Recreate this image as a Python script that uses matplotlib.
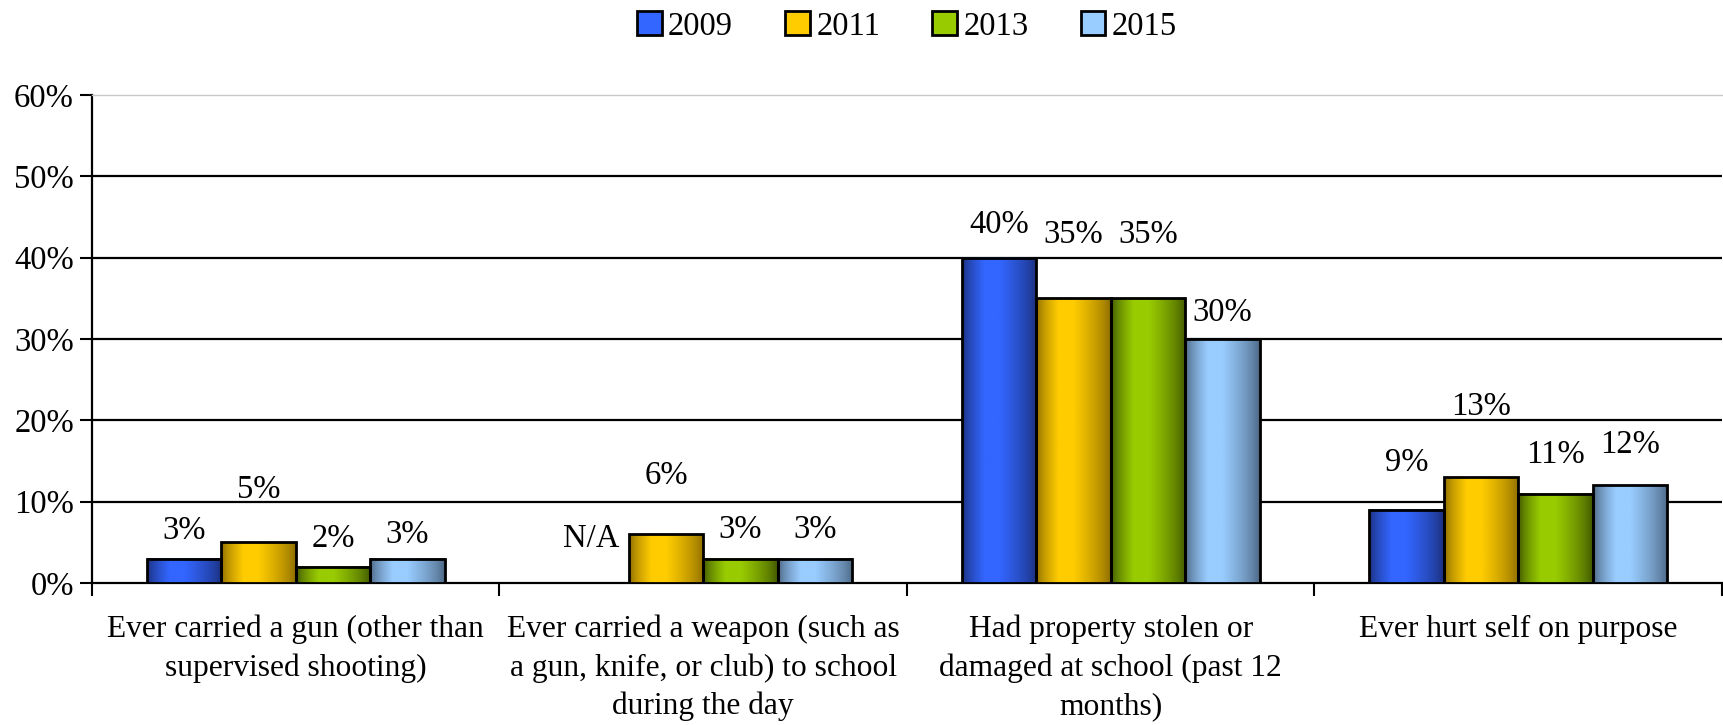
import numpy as np
import matplotlib
matplotlib.use('Agg')
import matplotlib.pyplot as plt
from matplotlib.colors import to_rgb
from matplotlib.patches import Patch

plt.rcParams['font.family'] = ['Liberation Serif', 'DejaVu Serif']

categories = ["Ever carried a gun (other than\nsupervised shooting)",
              "Ever carried a weapon (such as\na gun, knife, or club) to school\nduring the day",
              "Had property stolen or\ndamaged at school (past 12\nmonths)",
              "Ever hurt self on purpose"]
years = ["2009", "2011", "2013", "2015"]
values = {
    "2009": [3, None, 40, 9],
    "2011": [5, 6, 35, 13],
    "2013": [2, 3, 35, 11],
    "2015": [3, 3, 30, 12],
}

# light (centre) and dark (edge) colour of each series
light = {"2009": "#3366ff", "2011": "#ffcc00", "2013": "#99cc00", "2015": "#99ccff"}
dark = {"2009": "#1a2e78", "2011": "#8a6a00", "2013": "#3f5500", "2015": "#4a6480"}

# hand-placed label heights above bar top, in points (as in the original)
label_offsets = {
    "2009": [20, 32, 24, 34],
    "2011": [38, 42, 46, 51],
    "2013": [20, 21, 46, 28],
    "2015": [17, 21, 19, 29],
}

W, H = 1724, 725
fig = plt.figure(figsize=(W / 100, H / 100), dpi=100)
ax = fig.add_axes([92 / W, 1 - 583 / H, (1722 - 92) / W, (583 - 95) / H])

x = np.arange(len(categories))
width = 0.183
fs = 23.5

def gradient(c_light, c_dark, n=64):
    t = np.linspace(0, 1, n)
    w = np.interp(t, [0, 0.3, 0.5, 1], [0.0, 1, 1, 0.0]) ** 0.7
    cl, cd = np.array(to_rgb(c_light)), np.array(to_rgb(c_dark))
    return (cd[None, :] + (cl - cd)[None, :] * w[:, None])[None, :, :]

for i, yr in enumerate(years):
    vals = [np.nan if v is None else v for v in values[yr]]
    pos = x + (i - 1.5) * width
    bars = ax.bar(pos, vals, width, color='none', edgecolor='black', linewidth=2, zorder=4)
    img = gradient(light[yr], dark[yr])
    for b, v, off in zip(bars, values[yr], label_offsets[yr]):
        if v is None:
            ax.annotate("N/A", (b.get_x() + b.get_width() / 2, 0), xytext=(0, off),
                        textcoords='offset points', ha='center', va='center', fontsize=fs)
            continue
        ax.imshow(img, extent=[b.get_x(), b.get_x() + b.get_width(), 0, v],
                  aspect='auto', zorder=3, interpolation='bilinear')
        ax.annotate("{}%".format(v), (b.get_x() + b.get_width() / 2, v), xytext=(0, off),
                    textcoords='offset points', ha='center', va='center', fontsize=fs)

ax.set_xlim(-0.5, len(categories) - 0.5)
ax.set_ylim(0, 60)
ax.set_yticks(range(0, 61, 10))
ax.set_yticklabels(["{}%".format(t) for t in range(0, 61, 10)], fontsize=fs)
ax.set_xticks(x)
ax.set_xticklabels(categories, fontsize=22.7, linespacing=1.4)
ax.set_xticks(np.arange(-0.5, len(categories), 1), minor=True)
ax.tick_params(axis='x', which='major', length=0, pad=23)
ax.tick_params(axis='x', which='minor', length=9, width=1.5, direction='out')
ax.tick_params(axis='y', length=9, width=1.5, direction='out', pad=4)

for t in range(10, 60, 10):
    ax.axhline(t, color='black', linewidth=1.6, zorder=1)
ax.spines['top'].set_color('#c8c8c8')
ax.spines['top'].set_linewidth(1)
ax.spines['right'].set_visible(False)
ax.spines['left'].set_linewidth(1.6)
ax.spines['bottom'].set_linewidth(1.6)

handles = [Patch(facecolor=light[yr], edgecolor='black', linewidth=2) for yr in years]
fig.legend(handles, years, loc='upper center', bbox_to_anchor=(907 / W, 1.025),
           ncol=4, frameon=False, fontsize=fs, handlelength=0.75, handleheight=0.75,
           handletextpad=0.2, columnspacing=1.6)

fig.savefig('out.png', dpi=100)
